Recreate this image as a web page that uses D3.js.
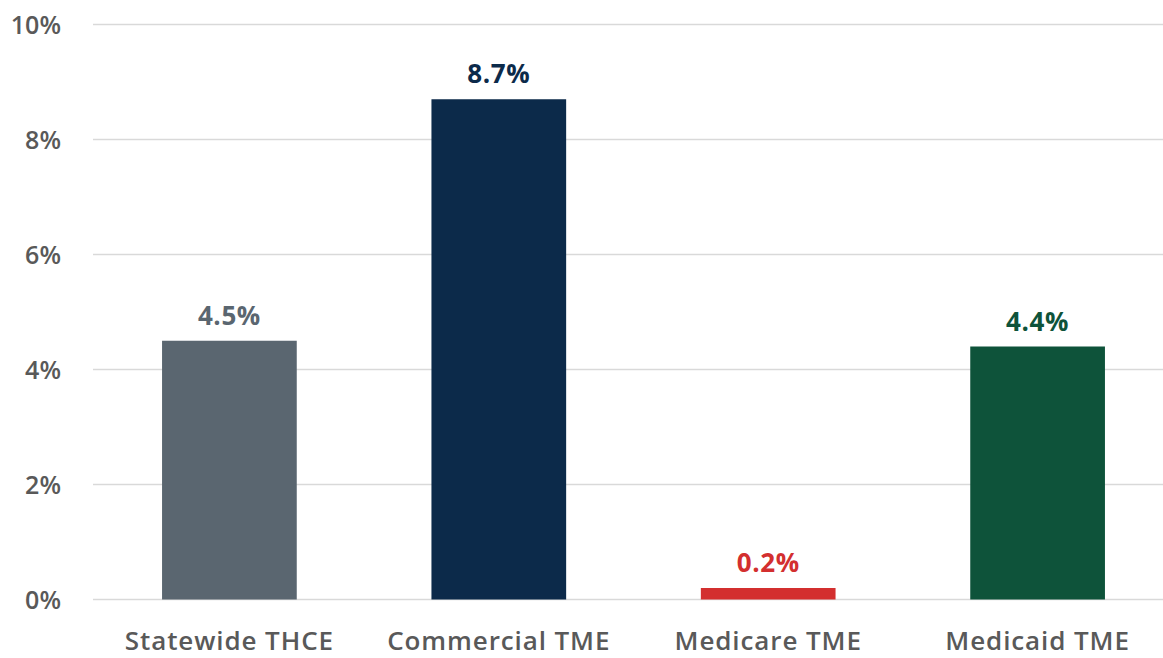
<!DOCTYPE html>
<html><head><meta charset="utf-8">
<script src="https://cdn.jsdelivr.net/npm/d3@7"></script>
<style>body{margin:0;background:#fff;}svg{display:block;font-family:"Open Sans","Noto Sans",sans-serif;}</style>
</head><body>
<svg id="c" width="1163" height="658"></svg>
<script>
const categories = ["Statewide THCE", "Commercial TME", "Medicare TME", "Medicaid TME"];
const values = [4.5, 8.7, 0.2, 4.4];
const colors = ["#5a6670", "#0c2a4a", "#d32f2f", "#0e533a"];
const yTicks = [0, 2, 4, 6, 8, 10];

const svg = d3.select("#c");
const y = d3.scaleLinear().domain([0, 10]).range([599.5, 24.5]);
const x = d3.scaleBand().domain(categories).range([94.7, 1172.3]).paddingInner(0.5).paddingOuter(0.25);

// gridlines
svg.append("g").selectAll("line").data(yTicks).join("line")
  .attr("x1", 93).attr("x2", 1163)
  .attr("y1", d => y(d)).attr("y2", d => y(d))
  .attr("stroke", "#d9d9d9").attr("stroke-width", 1.5);

// y tick labels
svg.append("g").selectAll("text").data(yTicks).join("text")
  .attr("x", 61).attr("y", d => y(d)).attr("dy", "0.36em")
  .attr("text-anchor", "end").attr("fill", "#595959")
  .attr("font-size", 25).attr("font-weight", 600)
  .text(d => d + "%");

// bars
svg.append("g").selectAll("rect").data(values).join("rect")
  .attr("x", (d, i) => x(categories[i])).attr("width", x.bandwidth())
  .attr("y", d => y(d)).attr("height", d => y(0) - y(d))
  .attr("fill", (d, i) => colors[i]);

// value labels
svg.append("g").selectAll("text").data(values).join("text")
  .attr("x", (d, i) => x(categories[i]) + x.bandwidth() / 2)
  .attr("y", d => y(d) - 16)
  .attr("text-anchor", "middle").attr("fill", (d, i) => colors[i])
  .attr("font-size", 26).attr("font-weight", 700).attr("letter-spacing", 0.6)
  .text(d => d.toFixed(1) + "%");

// category labels
svg.append("g").selectAll("text").data(categories).join("text")
  .attr("x", d => x(d) + x.bandwidth() / 2).attr("y", 650)
  .attr("text-anchor", "middle").attr("fill", "#595959")
  .attr("font-size", 26).attr("font-weight", 600).attr("letter-spacing", 0.9)
  .text(d => d);
</script>
</body></html>
